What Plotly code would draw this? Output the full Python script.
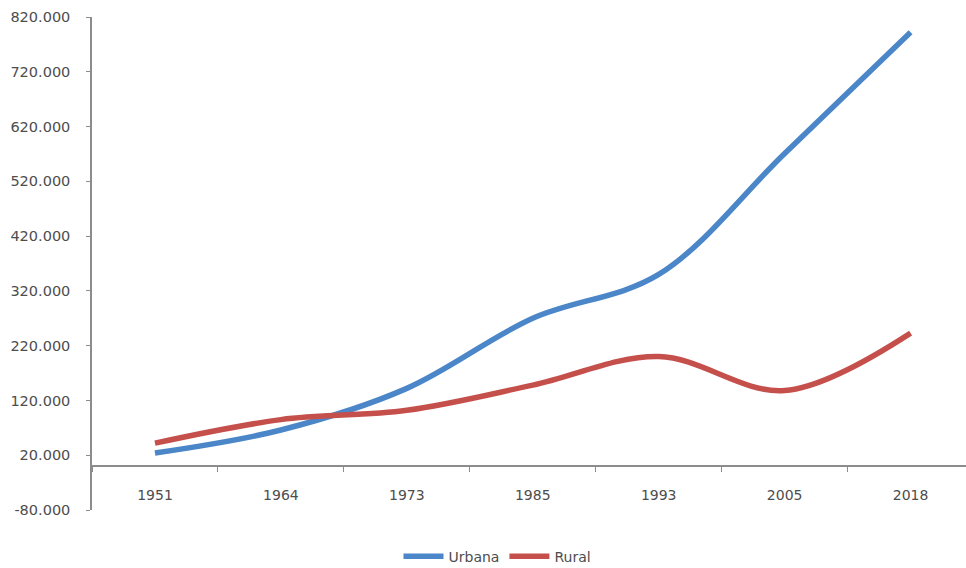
import plotly.graph_objects as go

# Population by census year (inhabitants)
years = ["1951", "1964", "1973", "1985", "1993", "2005", "2018"]
urbana = [24000, 66000, 142000, 270000, 350000, 571000, 792000]
rural = [42000, 85000, 102000, 148000, 200000, 138000, 243000]

y_ticks = [-80000, 20000, 120000, 220000, 320000, 420000, 520000, 620000, 720000, 820000]
y_tick_labels = ["-80.000", "20.000", "120.000", "220.000", "320.000",
                 "420.000", "520.000", "620.000", "720.000", "820.000"]

y_min, y_max = -80000, 820000
axis_color = "#8c8c8c"
text_color = "#4d4d4d"
font_family = "DejaVu Sans"

fig = go.Figure()
fig.add_trace(go.Scatter(
    x=years, y=urbana, name="Urbana", mode="lines",
    line=dict(color="#4a86c8", width=5.5, shape="spline", smoothing=1.0),
))
fig.add_trace(go.Scatter(
    x=years, y=rural, name="Rural", mode="lines",
    line=dict(color="#c5504b", width=5.5, shape="spline", smoothing=1.0),
))

fig.update_layout(
    width=966, height=568,
    margin=dict(l=92, r=0, t=17, b=58, autoexpand=False),
    paper_bgcolor="white", plot_bgcolor="white",
    font=dict(family=font_family, size=14, color=text_color),
    showlegend=True,
    legend=dict(
        orientation="h", xref="container", yref="container",
        x=0.515, xanchor="center", y=0.02, yanchor="middle",
        font=dict(size=14, color=text_color),
        itemwidth=40, tracegroupgap=0,
    ),
    xaxis=dict(
        type="category",
        range=[-0.5, 6.44],
        anchor="free",
        position=(0 - y_min) / (y_max - y_min),
        showline=True, linecolor=axis_color, linewidth=1.5,
        ticks="outside", ticklen=5, tickcolor=axis_color,
        tickson="boundaries",
        showgrid=False, zeroline=False,
        tickfont=dict(size=14, color=text_color),
        ticklabelstandoff=16,
        automargin=False,
    ),
    yaxis=dict(
        range=[y_min, y_max],
        tickvals=y_ticks, ticktext=y_tick_labels,
        showline=True, linecolor=axis_color, linewidth=1.5,
        ticks="outside", ticklen=4, tickcolor=axis_color,
        showgrid=False, zeroline=False,
        tickfont=dict(size=14.5, color=text_color),
        ticklabelstandoff=13,
        automargin=False,
    ),
)

fig.write_html("out.html")
